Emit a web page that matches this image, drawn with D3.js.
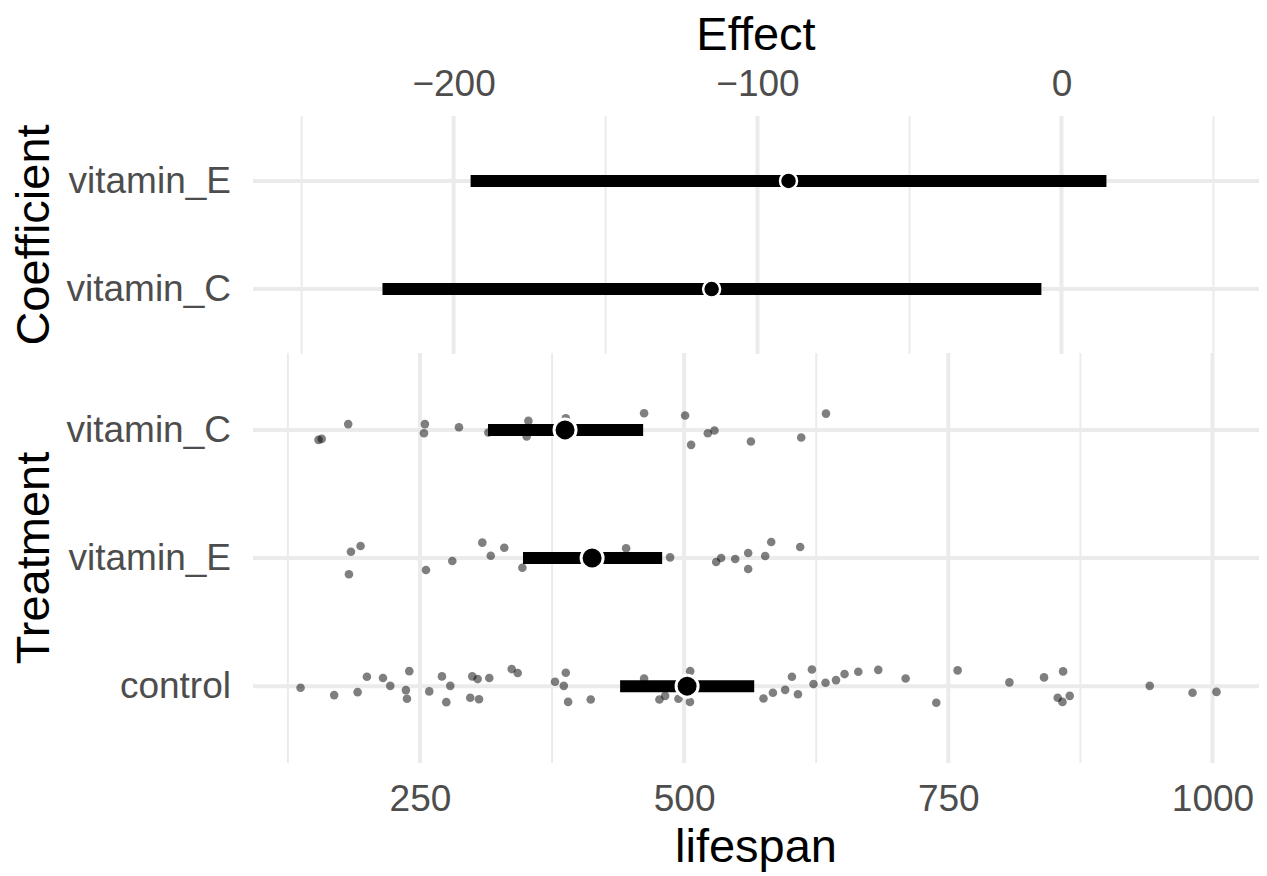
<!DOCTYPE html>
<html>
<head>
<meta charset="utf-8">
<script src="https://cdn.jsdelivr.net/npm/d3@7"></script>
<style>
  html, body { margin: 0; padding: 0; background: #fff; }
  svg { display: block; font-family: "Liberation Sans", Arial, Helvetica, sans-serif; }
</style>
</head>
<body>
<svg id="chart" width="1267" height="876"></svg>
<script>
// ---------- data ----------
// Top panel: coefficient estimates (effect vs. control) with intervals
const coefNames = ["vitamin_E", "vitamin_C"];
const coefEst   = [-89.8, -115.1];
const coefLow   = [-194.4, -223.4];
const coefHigh  = [14.8, -6.6];

// Bottom panel: treatments, group means and intervals
const treatNames = ["vitamin_C", "vitamin_E", "control"];
const treatMean  = [387.3, 412.9, 502.8];
const treatLow   = [314.4, 347.5, 439.4];
const treatHigh  = [461.2, 479.2, 566.3];

// Raw observations (lifespan) with vertical jitter (fraction of row spacing, + = up)
const lifeVitC = [154, 157, 182.1, 254.7, 253.8, 286.9, 314.7, 352.6, 351.0, 388.0, 462.1, 500.9, 506.6, 522.4, 528.7, 563.2, 610.8, 634.2];
const jitVitC  = [-0.078, -0.070, 0.045, 0.045, -0.026, 0.021, -0.021, 0.070, -0.052, 0.091, 0.130, 0.112, -0.117, -0.026, -0.005, -0.091, -0.060, 0.127];

const lifeVitE = [184.7, 193.8, 182.8, 255.7, 280.6, 309.0, 317.0, 329.8, 346.9, 423.6, 445.1, 486.7, 530.3, 535.0, 548.3, 560.6, 560.6, 576.7, 582.4, 609.8];
const jitVitE  = [0.049, 0.094, -0.127, -0.094, -0.023, 0.120, 0.018, 0.080, -0.076, 0.002, 0.076, 0.005, -0.031, 0.0, -0.008, 0.039, -0.086, 0.016, 0.125, 0.086];

const lifeCtrl = [137.0, 168.8, 191.0, 199.8, 215.0, 221.9, 239.9, 236.7, 237.7, 258.8,
                  270.8, 278.7, 274.9, 299.5, 304.6, 297.6, 305.9, 315.6, 336.8, 342.5,
                  377.8, 388.0, 386.1, 390.2, 411.6, 462.1, 476.6, 482.0, 494.6, 505.7,
                  505.5, 575.1, 584.0, 595.6, 602.0, 607.7, 620.9, 622.4, 633.8, 643.7,
                  651.8, 664.8, 683.7, 709.6, 738.6, 758.8, 807.8, 840.6, 858.6, 853.5,
                  858.0, 864.9, 940.6, 981.1, 1003.8];
const jitCtrl  = [-0.013, -0.070, -0.047, 0.073, 0.063, 0.002, 0.117, -0.031, -0.099, -0.041,
                  0.076, 0.002, -0.125, 0.076, 0.055, -0.091, -0.102, 0.063, 0.133, 0.102,
                  0.034, 0.104, 0.002, -0.123, -0.104, 0.060, -0.104, -0.076, -0.099, 0.117,
                  -0.123, -0.096, -0.052, -0.029, 0.073, -0.063, 0.130, 0.016, 0.026, 0.047,
                  0.094, 0.112, 0.127, 0.060, -0.130, 0.123, 0.029, 0.068, 0.115, -0.091,
                  -0.123, -0.076, 0.002, -0.052, -0.045];

// Axis breaks and limits
const effectDomain = [-266, 65];
const effectMajor  = [-200, -100, 0];
const effectMinor  = [-250, -150, -50, 50];
const lifeDomain   = [92, 1044];
const lifeMajor    = [250, 500, 750, 1000];
const lifeMinor    = [125, 375, 625, 875];

// ---------- layout ----------
const svg = d3.select("#chart");
const panelX = [253, 1259];
const topY = [116, 354];
const botY = [353, 763];
const gridCol = "#EBEBEB";
const tickCol = "#4D4D4D";
const tickFont = 37;
const titleFont = 47;

const xTop = d3.scaleLinear().domain(effectDomain).range(panelX);
const yTop = d3.scalePoint().domain(coefNames).range(topY).padding(0.6);
const xBot = d3.scaleLinear().domain(lifeDomain).range(panelX);
const yBot = d3.scalePoint().domain(treatNames).range(botY).padding(0.6);

// ---------- grids ----------
function grids(g, xs, ys, major, minor, cats, yr) {
  g.selectAll("line.minx").data(minor).join("line").attr("class", "minx")
    .attr("x1", d => xs(d)).attr("x2", d => xs(d))
    .attr("y1", yr[0]).attr("y2", yr[1])
    .attr("stroke", gridCol).attr("stroke-width", 2);
  g.selectAll("line.majx").data(major).join("line").attr("class", "majx")
    .attr("x1", d => xs(d)).attr("x2", d => xs(d))
    .attr("y1", yr[0]).attr("y2", yr[1])
    .attr("stroke", gridCol).attr("stroke-width", 4);
  g.selectAll("line.majy").data(cats).join("line").attr("class", "majy")
    .attr("x1", panelX[0]).attr("x2", panelX[1])
    .attr("y1", d => ys(d)).attr("y2", d => ys(d))
    .attr("stroke", gridCol).attr("stroke-width", 4);
}
grids(svg.append("g"), xTop, yTop, effectMajor, effectMinor, coefNames, topY);
grids(svg.append("g"), xBot, yBot, lifeMajor, lifeMinor, treatNames, botY);

// ---------- top panel marks ----------
const coefData = coefNames.map((n, i) => ({ n, est: coefEst[i], lo: coefLow[i], hi: coefHigh[i] }));
svg.append("g").selectAll("line").data(coefData).join("line")
  .attr("x1", d => xTop(d.lo)).attr("x2", d => xTop(d.hi))
  .attr("y1", d => yTop(d.n)).attr("y2", d => yTop(d.n))
  .attr("stroke", "#000").attr("stroke-width", 12);
svg.append("g").selectAll("circle").data(coefData).join("circle")
  .attr("cx", d => xTop(d.est)).attr("cy", d => yTop(d.n)).attr("r", 8.5)
  .attr("fill", "#000").attr("stroke", "#fff").attr("stroke-width", 2.5);

// ---------- bottom panel marks ----------
const obs = [];
lifeVitC.forEach((v, i) => obs.push({ t: "vitamin_C", v, j: jitVitC[i] }));
lifeVitE.forEach((v, i) => obs.push({ t: "vitamin_E", v, j: jitVitE[i] }));
lifeCtrl.forEach((v, i) => obs.push({ t: "control", v, j: jitCtrl[i] }));
const step = yBot.step();
svg.append("g").selectAll("circle").data(obs).join("circle")
  .attr("cx", d => xBot(d.v)).attr("cy", d => yBot(d.t) - d.j * step).attr("r", 4.3)
  .attr("fill", "#000").attr("fill-opacity", 0.5);

const treatData = treatNames.map((n, i) => ({ n, m: treatMean[i], lo: treatLow[i], hi: treatHigh[i] }));
svg.append("g").selectAll("line").data(treatData).join("line")
  .attr("x1", d => xBot(d.lo)).attr("x2", d => xBot(d.hi))
  .attr("y1", d => yBot(d.n)).attr("y2", d => yBot(d.n))
  .attr("stroke", "#000").attr("stroke-width", 12);
svg.append("g").selectAll("circle").data(treatData).join("circle")
  .attr("cx", d => xBot(d.m)).attr("cy", d => yBot(d.n)).attr("r", 11)
  .attr("fill", "#000").attr("stroke", "#fff").attr("stroke-width", 3);

// ---------- axes ----------
function styleAxis(g) {
  g.select(".domain").remove();
  g.selectAll(".tick line").remove();
  g.selectAll("text").attr("fill", tickCol).style("font-size", tickFont + "px")
    .style("font-family", '"Liberation Sans", Arial, sans-serif');
}
svg.append("g").attr("transform", `translate(0,${topY[0]})`)
  .call(d3.axisTop(xTop).tickValues(effectMajor).tickSize(0).tickPadding(20).tickFormat(d3.format("d")))
  .call(styleAxis);
svg.append("g").attr("transform", `translate(0,${botY[1]})`)
  .call(d3.axisBottom(xBot).tickValues(lifeMajor).tickSize(0).tickPadding(22).tickFormat(d3.format("d")))
  .call(styleAxis);
svg.append("g").attr("transform", `translate(${panelX[0]},0)`)
  .call(d3.axisLeft(yTop).tickSize(0).tickPadding(22))
  .call(styleAxis);
svg.append("g").attr("transform", `translate(${panelX[0]},0)`)
  .call(d3.axisLeft(yBot).tickSize(0).tickPadding(22))
  .call(styleAxis);

// ---------- titles ----------
const midX = (panelX[0] + panelX[1]) / 2;
svg.append("text").attr("x", midX).attr("y", 50).attr("text-anchor", "middle")
  .style("font-size", titleFont + "px").attr("fill", "#000").text("Effect");
svg.append("text").attr("x", midX).attr("y", 862).attr("text-anchor", "middle")
  .style("font-size", titleFont + "px").attr("fill", "#000").text("lifespan");
svg.append("text").attr("transform", `translate(49,${(topY[0] + topY[1]) / 2}) rotate(-90)`)
  .attr("text-anchor", "middle").style("font-size", titleFont + "px").attr("fill", "#000").text("Coefficient");
svg.append("text").attr("transform", `translate(49,${(botY[0] + botY[1]) / 2}) rotate(-90)`)
  .attr("text-anchor", "middle").style("font-size", titleFont + "px").attr("fill", "#000").text("Treatment");
</script>
</body>
</html>
